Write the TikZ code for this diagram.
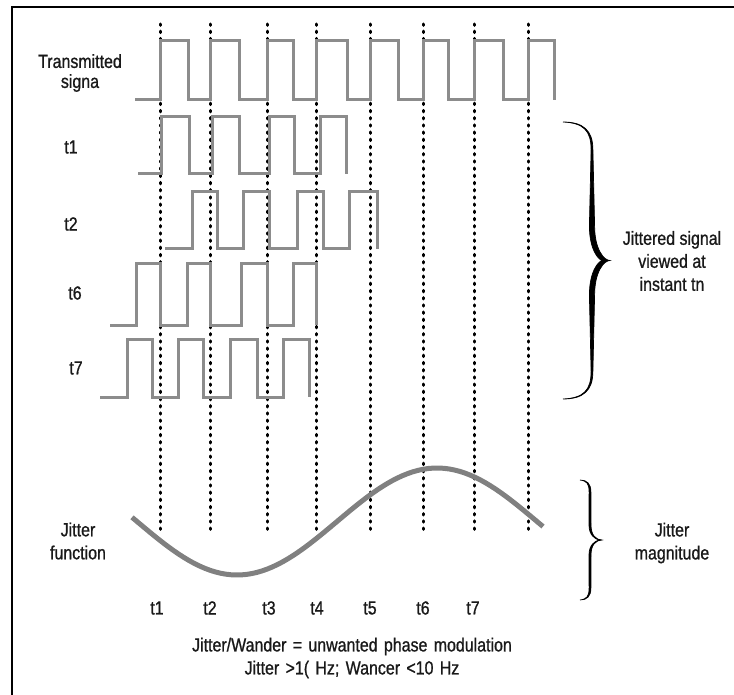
\documentclass[tikz,border=0pt]{standalone}
\usepackage{fontspec}
\setmainfont{Liberation Sans}[FakeStretch=0.84, FakeBold=0.9]

% calligraphic brace: x0, ytop, ybot, body offset, tip offset, half width at the middle
\newcommand\calbrace[6]{%
  \pgfmathsetmacro\brH{(#3-#2)/2}
  \pgfmathsetmacro\brOut{#4+0.9}
  \pgfmathsetmacro\brIn{#4-0.9}
  \pgfmathsetmacro\brMo{#4+#6}
  \pgfmathsetmacro\brMi{#4-#6}
  \pgfmathsetmacro\brCusp{#5-3*#6}
  \pgfmathsetmacro\brYa{0.8*\brH}
  \pgfmathsetmacro\brYb{0.25*\brH}
  \pgfmathsetmacro\brYc{0.94*\brH}
  \pgfmathsetmacro\brYd{0.08*\brH}
  \pgfmathsetmacro\brCe{0.7*#4}
  \begin{scope}[shift={(#1,{(#2+#3)/2})}]
    \filldraw[line width=0.7pt]
      (0,-\brH) .. controls (\brCe,-\brH) and (\brOut,-\brYc) .. (\brOut,-\brYa)
      -- (\brMo,-\brYb)
      .. controls (\brMo,-\brYd) and ({#5-6},0) .. (#5,0)
      .. controls ({#5-6},0) and (\brMo,\brYd) .. (\brMo,\brYb)
      -- (\brOut,\brYa)
      .. controls (\brOut,\brYc) and (\brCe,\brH) .. (0,\brH)
      .. controls (\brCe,{\brH-1}) and (\brIn,\brYc) .. (\brIn,\brYa)
      -- (\brMi,\brYb)
      .. controls (\brMi,\brYd) and ({\brCusp-4},1) .. (\brCusp,0)
      .. controls ({\brCusp-4},-1) and (\brMi,-\brYd) .. (\brMi,-\brYb)
      -- (\brIn,-\brYa)
      .. controls (\brIn,-\brYc) and (\brCe,{-\brH+1}) .. cycle;
  \end{scope}}

\begin{document}
\begin{tikzpicture}[x=1pt,y=-1pt,
    signal/.style={draw=black!45, line width=3pt},
    jitter/.style={draw=black!50, line width=5pt},
    instant/.style={line width=3pt, dash pattern=on 1.4pt off 5.8pt, line cap=round},
    lbl/.style={font=\fontsize{19}{23}\selectfont, text=black!90, align=center, inner sep=0pt}]
  \useasboundingbox (0,0) rectangle (734,695);
  % Frame
  \draw[line width=1.3pt] (12,695) -- (12,7) -- (734,7);

  % Sampling instants
  \foreach \n/\x in {1/160,2/210,3/267,4/316,5/370,6/423,7/474,8/528} {
    \coordinate (top\n) at (\x,24);
    \coordinate (bot\n) at (\x,533);
    \draw[instant] (top\n) -- (bot\n);
  }

  % Transmitted signal
  \draw[signal] (135,100) \foreach \r/\f in {160/188,210/239,267/293,316/347,370/398,423/448,474/503,528/554}
    { -- (\r,100) -- (\r,41) -- (\f,41) -- (\f,100) };
  % Jittered signal at t1, t2, t6, t7
  \draw[signal] (138,174) \foreach \r/\f in {161/189,212/239,269/294,320/346}
    { -- (\r,174) -- (\r,117) -- (\f,117) -- (\f,174) };
  \draw[signal] (165,249) \foreach \r/\f in {192/217,243/269,297/323,349/377}
    { -- (\r,249) -- (\r,192) -- (\f,192) -- (\f,249) };
  \draw[signal] (110,325) \foreach \r/\f in {136/160,187/210,241/267,293/316}
    { -- (\r,325) -- (\r,264) -- (\f,264) -- (\f,325) };
  \draw[signal] (100,397) \foreach \r/\f in {127/152,178/203,230/257,283/309}
    { -- (\r,397) -- (\r,339) -- (\f,339) -- (\f,397) };

  % Row labels
  \node[lbl] (sigtx) at (80,73) {Transmitted\\[-3pt]signa};
  \node[lbl] (sig1) at (71,147) {t1};
  \node[lbl] (sig2) at (71,224) {t2};
  \node[lbl] (sig6) at (75,293) {t6};
  \node[lbl] (sig7) at (76,368) {t7};

  % Jitter function
  \draw[jitter] plot[domain=132:543, samples=80] (\x,{521.5+53.5*cos(0.9*(\x-237))});
  \node[lbl] (jitfun) at (78,541) {Jitter\\function};

  % Instant labels
  \foreach \n/\x in {1/157,2/210,3/269,4/317,5/370,6/423,7/473}
    \node[lbl] (inst\n) at (\x,608) {t\n};

  % Braces
  \calbrace{563}{122}{399}{29}{47}{2.6}
  \calbrace{580}{480}{600}{10}{22}{1.0}
  \node[lbl] (jitsig) at (672,261) {Jittered signal\\viewed at\\instant tn};
  \node[lbl] (jitmag) at (672,543) {Jitter\\magnitude};

  % Caption
  \node[lbl, text width=400pt] (caption) at (352,658) {Jitter/Wander = unwanted phase modulation\\Jitter >1( Hz; Wancer <10 Hz};
\end{tikzpicture}
\end{document}
